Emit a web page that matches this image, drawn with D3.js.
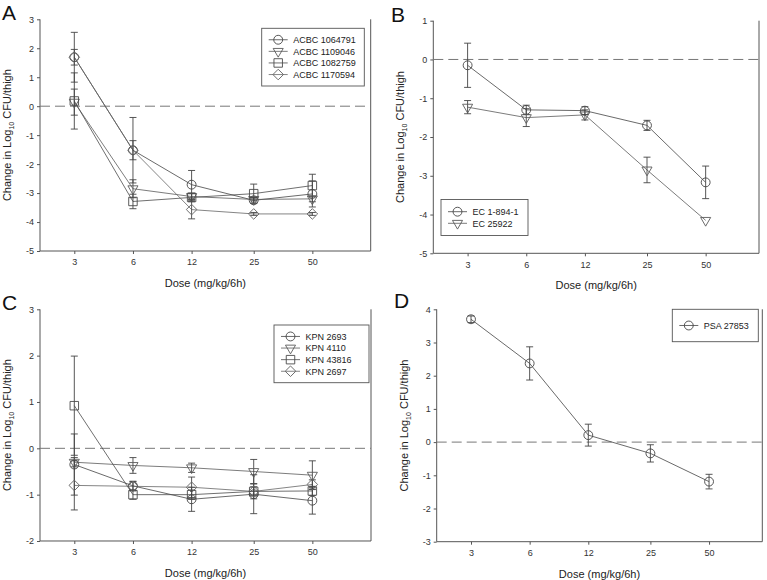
<!DOCTYPE html>
<html>
<head>
<meta charset="utf-8">
<script src="https://cdn.jsdelivr.net/npm/d3@7"></script>
<style>
  body { margin: 0; background: #fff; }
  svg { display: block; font-family: "Liberation Sans", Arial, sans-serif; }
</style>
</head>
<body>
<svg id="chart" width="767" height="580"></svg>
<script>
// doses on the x axis (log scale)
const doses = [3, 6, 12, 25, 50];
const doseLabels = ['3', '6', '12', '25', '50'];

// panel A
const acbcNames = ['ACBC 1064791', 'ACBC 1109046', 'ACBC 1082759', 'ACBC 1170594'];
const acbc1064791 = [1.69, -1.52, -2.71, -3.25, -3.03];
const acbc1064791Err = [0.86, 1.13, 0.49, 0.1, 0.45];
const acbc1109046 = [0.14, -2.85, -3.12, -3.22, -3.2];
const acbc1109046Err = [0.45, 0.31, 0.1, 0.05, 0.1];
const acbc1082759 = [0.18, -3.29, -3.15, -3.02, -2.74];
const acbc1082759Err = [0.97, 0.25, 0.15, 0.33, 0.39];
const acbc1170594 = [1.69, -1.52, -3.57, -3.72, -3.72];
const acbc1170594Err = [0.27, 0.33, 0.32, 0.05, 0.05];

// panel B
const ecNames = ['EC 1-894-1', 'EC 25922'];
const ec18941 = [-0.15, -1.3, -1.32, -1.7, -3.17];
const ec18941Err = [0.57, 0.12, 0.1, 0.13, 0.42];
const ec25922 = [-1.23, -1.5, -1.43, -2.85, -4.15];
const ec25922Err = [0.17, 0.23, 0.13, 0.33, 0];

// panel C
const kpnNames = ['KPN 2693', 'KPN 4110', 'KPN 43816', 'KPN 2697'];
const kpn2693 = [-0.35, -0.81, -1.1, -0.99, -1.13];
const kpn2693Err = [0.66, 0.1, 0.26, 0.42, 0.29];
const kpn4110 = [-0.3, -0.37, -0.42, -0.5, -0.58];
const kpn4110Err = [0.1, 0.17, 0.1, 0.26, 0.31];
const kpn43816 = [0.92, -1.0, -1.0, -0.93, -0.92];
const kpn43816Err = [1.07, 0.1, 0.1, 0.16, 0.1];
const kpn2697 = [-0.8, -0.82, -0.84, -0.93, -0.78];
const kpn2697Err = [0.53, 0.1, 0.22, 0.1, 0.1];

// panel D
const psaNames = ['PSA 27853'];
const psa27853 = [3.7, 2.37, 0.21, -0.34, -1.19];
const psa27853Err = [0.1, 0.5, 0.33, 0.26, 0.22];

const shapes = ['circle', 'triangle', 'square', 'diamond'];
const shapeColor = { circle: '#444', triangle: '#5a5a5a', square: '#4a4a4a', diamond: '#666' };

const panels = [
  { letter: 'A', lx: 2, ly: 19.5, left: 40, top: 19.3, bottom: 251, right: 370.7, yDomain: [-5, 3],
    names: acbcNames, values: [acbc1064791, acbc1109046, acbc1082759, acbc1170594],
    errs: [acbc1064791Err, acbc1109046Err, acbc1082759Err, acbc1170594Err],
    legend: { x: 261.7, y: 28.3, w: 102.6, h: 57.7 } },
  { letter: 'B', lx: 391, ly: 22, left: 433.3, top: 20.7, bottom: 253.3, right: 759, yDomain: [-5, 1],
    names: ecNames, values: [ec18941, ec25922], errs: [ec18941Err, ec25922Err],
    legend: { x: 441, y: 199.5, w: 87, h: 36 } },
  { letter: 'C', lx: 2, ly: 310, left: 40, top: 309.3, bottom: 541, right: 371, yDomain: [-2, 3],
    names: kpnNames, values: [kpn2693, kpn4110, kpn43816, kpn2697],
    errs: [kpn2693Err, kpn4110Err, kpn43816Err, kpn2697Err],
    legend: { x: 274, y: 325, w: 95, h: 57.7 } },
  { letter: 'D', lx: 394, ly: 308, left: 436.7, top: 309.3, bottom: 541.7, right: 762.3, yDomain: [-3, 4],
    names: psaNames, values: [psa27853], errs: [psa27853Err],
    legend: { x: 672.3, y: 309.3, w: 86, h: 32.4 } }
];

const svg = d3.select('#chart');

const symbolFor = shape => {
  if (shape === 'circle') return { type: d3.symbolCircle, size: 62, rot: 0 };
  if (shape === 'triangle') return { type: d3.symbolTriangle, size: 44, rot: 180 };
  if (shape === 'square') return { type: d3.symbolSquare, size: 72, rot: 0 };
  return { type: d3.symbolSquare, size: 56, rot: 45 };
};

const drawSymbol = (g, shape, cx, cy) => {
  const s = symbolFor(shape);
  g.append('path')
    .attr('d', d3.symbol().type(s.type).size(s.size)())
    .attr('transform', `translate(${cx},${cy}) rotate(${s.rot})`)
    .attr('fill', 'none')
    .attr('stroke', shapeColor[shape])
    .attr('stroke-width', 0.9);
};

panels.forEach(p => {
  const g = svg.append('g').attr('transform', `translate(${p.left},${p.top})`);
  const w = p.right - p.left;
  const h = p.bottom - p.top;

  const x = d3.scaleLog().domain([2, 100]).range([0, 331]);
  const y = d3.scaleLinear().domain(p.yDomain).range([h, 0]);

  const yAxis = d3.axisLeft(y)
    .tickValues(d3.range(p.yDomain[0], p.yDomain[1] + 1))
    .tickFormat(d3.format('d'))
    .tickSize(3)
    .tickPadding(3)
    .tickSizeOuter(0);

  const xAxis = d3.axisBottom(x)
    .tickValues(doses)
    .tickFormat((d, i) => doseLabels[i])
    .tickSize(3)
    .tickPadding(5)
    .tickSizeOuter(0);

  g.append('g').call(yAxis)
    .call(a => a.select('.domain').remove())
    .call(a => a.selectAll('line').attr('stroke', '#555'))
    .call(a => a.selectAll('text').attr('font-size', 9).attr('fill', '#333')
      .text(d => d < 0 ? '-' + Math.abs(d) : d));

  g.append('g').attr('transform', `translate(0,${h})`).call(xAxis)
    .call(a => a.select('.domain').remove())
    .call(a => a.selectAll('line').attr('stroke', '#555'))
    .call(a => a.selectAll('text').attr('font-size', 9).attr('fill', '#333'));

  // frame: left, bottom, right
  g.append('path')
    .attr('d', `M0,0V${h}H${w}V0`)
    .attr('fill', 'none')
    .attr('stroke', '#555')
    .attr('stroke-width', 1);

  // zero reference
  g.append('line')
    .attr('x1', 0).attr('x2', w)
    .attr('y1', y(0)).attr('y2', y(0))
    .attr('stroke', '#777')
    .attr('stroke-width', 1)
    .attr('stroke-dasharray', '10,5');

  const line = d3.line()
    .x((d, i) => x(doses[i]))
    .y(d => y(d));

  p.values.forEach((vals, si) => {
    g.append('path')
      .datum(vals)
      .attr('d', line)
      .attr('fill', 'none')
      .attr('stroke', shapeColor[shapes[si]])
      .attr('stroke-width', 0.8);
  });

  p.values.forEach((vals, si) => {
    const errs = p.errs[si];
    vals.forEach((v, i) => {
      const e = errs[i];
      if (!e) return;
      const cx = x(doses[i]);
      const eg = g.append('g').attr('stroke', '#444').attr('stroke-width', 0.9);
      eg.append('line').attr('x1', cx).attr('x2', cx).attr('y1', y(v - e)).attr('y2', y(v + e));
      eg.append('line').attr('x1', cx - 3.5).attr('x2', cx + 3.5).attr('y1', y(v - e)).attr('y2', y(v - e));
      eg.append('line').attr('x1', cx - 3.5).attr('x2', cx + 3.5).attr('y1', y(v + e)).attr('y2', y(v + e));
    });
  });

  p.values.forEach((vals, si) => {
    vals.forEach((v, i) => drawSymbol(g, shapes[si], x(doses[i]), y(v)));
  });

  // axis titles
  g.append('text')
    .attr('x', w / 2)
    .attr('y', h + 36)
    .attr('text-anchor', 'middle')
    .attr('font-size', 11)
    .attr('fill', '#222')
    .text('Dose (mg/kg/6h)');

  const yt = g.append('text')
    .attr('transform', `translate(${-p.left + (p.left > 100 ? p.left - 29 : 11)},${h / 2}) rotate(-90)`)
    .attr('text-anchor', 'middle')
    .attr('font-size', 11)
    .attr('fill', '#222');
  yt.append('tspan').text('Change in Log');
  yt.append('tspan').attr('font-size', 7).attr('dy', 3).text('10');
  yt.append('tspan').attr('dy', -3).text(' CFU/thigh');

  // legend
  const lg = svg.append('g').attr('transform', `translate(${p.legend.x},${p.legend.y})`);
  lg.append('rect')
    .attr('width', p.legend.w)
    .attr('height', p.legend.h)
    .attr('fill', '#fff')
    .attr('stroke', '#555')
    .attr('stroke-width', 0.9);
  const n = p.names.length;
  const step = 11.6;
  const first = p.legend.h / 2 - (n - 1) * step / 2;
  p.names.forEach((name, i) => {
    const ry = first + i * step;
    lg.append('line')
      .attr('x1', 7).attr('x2', 26)
      .attr('y1', ry).attr('y2', ry)
      .attr('stroke', shapeColor[shapes[i]])
      .attr('stroke-width', 0.8);
    drawSymbol(lg, shapes[i], 16.5, ry);
    lg.append('text')
      .attr('x', 31.5)
      .attr('y', ry + 3.3)
      .attr('font-size', 9)
      .attr('fill', '#222')
      .text(name);
  });

  // panel letter
  svg.append('text')
    .attr('x', p.lx)
    .attr('y', p.ly)
    .attr('font-size', 21)
    .attr('fill', '#111')
    .text(p.letter);
});
</script>
</body>
</html>
